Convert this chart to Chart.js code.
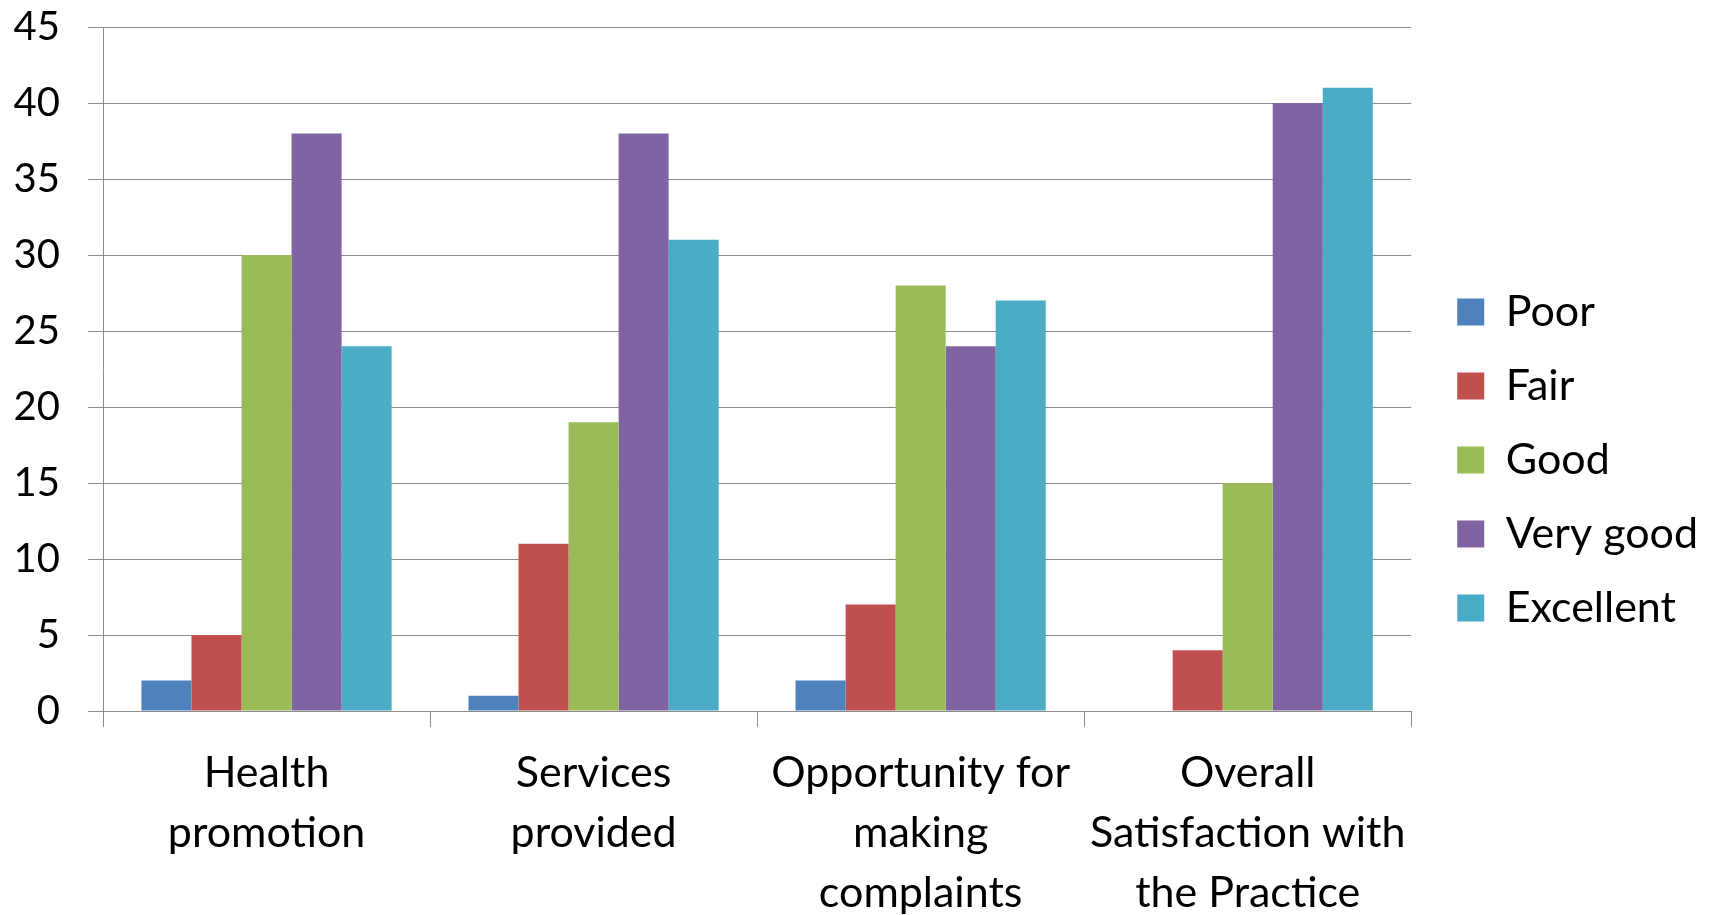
<!DOCTYPE html>
<html><head><meta charset="utf-8">
<script src="https://cdn.jsdelivr.net/npm/chart.js@4.4.1/dist/chart.umd.min.js"></script>
<style>html,body{margin:0;padding:0;background:#fff;overflow:hidden;}</style>
</head><body>
<canvas id="c" width="1709" height="915" style="display:block;width:1709px;height:915px"></canvas>
<script>
const categories = [["Health", "promotion"], ["Services", "provided"], ["Opportunity for", "making", "complaints"], ["Overall", "Satisfaction with", "the Practice"]];
const seriesNames = ["Poor", "Fair", "Good", "Very good", "Excellent"];
const poor = [2, 1, 2, 0];
const fair = [5, 11, 7, 4];
const good = [30, 19, 28, 15];
const veryGood = [38, 38, 24, 40];
const excellent = [24, 31, 27, 41];
const yMin = 0, yMax = 45, yStep = 5;
const colors = ["#4F81BD", "#C0504D", "#9BBB59", "#8064A2", "#4BACC6"];

const seriesValues = [poor, fair, good, veryGood, excellent];
const FONT = "Lato, 'Open Sans', sans-serif";
const gridColor = "#8c8c8c";

const legendShift = {
  id: "legendShift",
  afterLayout(chart) {
    const lg = chart.legend;
    if (lg) { lg.left += 15; lg.right += 15; lg.top -= 11; lg.bottom -= 11; }
  }
};

new Chart(document.getElementById("c"), {
  type: "bar",
  data: {
    labels: categories,
    datasets: seriesNames.map((n, i) => ({
      label: n,
      data: seriesValues[i],
      backgroundColor: colors[i],
      borderWidth: 0,
      barPercentage: 1,
      categoryPercentage: 0.765
    }))
  },
  plugins: [legendShift],
  options: {
    responsive: false,
    animation: false,
    layout: { padding: { top: 27, right: 16, left: 0, bottom: 0 } },
    plugins: {
      tooltip: { enabled: false },
      legend: {
        position: "right",
        align: "center",
        labels: {
          boxWidth: 27, boxHeight: 27, padding: 31,
          color: "#000",
          font: { family: FONT, size: 43 }
        }
      }
    },
    scales: {
      x: {
        offset: true,
        grid: { display: true, offset: true, drawOnChartArea: false, drawTicks: true, tickLength: 16, color: gridColor, lineWidth: 1 },
        border: { display: true, color: gridColor, width: 1 },
        ticks: { color: "#000", padding: 16, maxRotation: 0, autoSkip: false, font: { family: FONT, size: 43, lineHeight: 1.395 } },
        afterFit: (s) => { s.height = 204; s.paddingLeft = 0; s.paddingRight = 0; }
      },
      y: {
        min: yMin, max: yMax,
        ticks: { stepSize: yStep, color: "#000", padding: 28, font: { family: FONT, size: 40 } },
        grid: { color: gridColor, lineWidth: 1, tickLength: 15, drawTicks: true },
        border: { display: true, color: gridColor, width: 1 },
        afterFit: (s) => { s.width = 103; s.paddingTop = 0; s.paddingBottom = 0; }
      }
    }
  }
});
</script>
</body></html>
